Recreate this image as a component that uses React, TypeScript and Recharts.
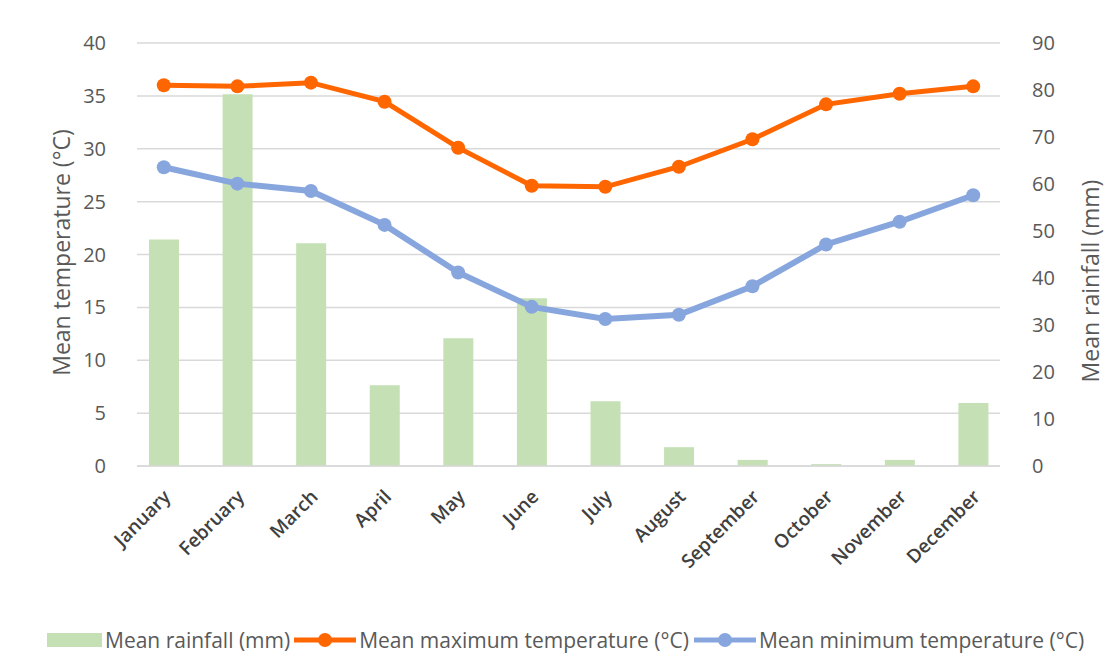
import {
  ComposedChart,
  Bar,
  Line,
  XAxis,
  YAxis,
  CartesianGrid,
  Legend,
} from "recharts";

const months = [
  "January",
  "February",
  "March",
  "April",
  "May",
  "June",
  "July",
  "August",
  "September",
  "October",
  "November",
  "December",
];
const rainfall = [48.2, 79.1, 47.4, 17.2, 27.2, 35.7, 13.8, 4.0, 1.3, 0.4, 1.3, 13.4];
const maxTemp = [36.0, 35.9, 36.25, 34.45, 30.1, 26.5, 26.4, 28.3, 30.9, 34.2, 35.2, 35.9];
const minTemp = [28.25, 26.7, 26.0, 22.8, 18.3, 15.05, 13.9, 14.3, 17.0, 20.95, 23.1, 25.6];
const tempTicks = [0, 5, 10, 15, 20, 25, 30, 35, 40];
const rainTicks = [0, 10, 20, 30, 40, 50, 60, 70, 80, 90];

const data = months.map((month, i) => ({
  month,
  rainfall: rainfall[i],
  maxTemp: maxTemp[i],
  minTemp: minTemp[i],
}));

const FONT = "'Open Sans', 'Noto Sans', sans-serif";
const GREEN = "#c5e0b4";
const ORANGE = "#ff6600";
const BLUE = "#88a6de";
const TEXT = "#595959";

const MonthTick = ({ x, y, payload }: any) => {
  const tx = x + 8;
  const ty = y + 24;
  return (
    <text
      x={tx}
      y={ty}
      textAnchor="end"
      transform={`rotate(-45, ${tx}, ${ty})`}
      fill="#404040"
      fontSize={19}
      fontWeight={600}
      fontFamily={FONT}
    >
      {payload.value}
    </text>
  );
};

const LegendBox = () => (
  <div
    style={{
      height: 30,
      display: "flex",
      alignItems: "center",
      paddingLeft: 47,
      fontFamily: FONT,
      fontSize: 21,
      color: TEXT,
      whiteSpace: "nowrap",
    }}
  >
    <span style={{ width: 55, height: 14, background: GREEN, marginRight: 3 }} />
    <span>Mean rainfall (mm)</span>
    <svg width={62} height={16} style={{ marginLeft: 4, marginRight: 3 }}>
      <line x1={0} y1={8} x2={62} y2={8} stroke={ORANGE} strokeWidth={5} />
      <circle cx={31} cy={8} r={7} fill={ORANGE} />
    </svg>
    <span>Mean maximum temperature (°C)</span>
    <svg width={62} height={16} style={{ marginLeft: 5, marginRight: 3 }}>
      <line x1={0} y1={8} x2={62} y2={8} stroke={BLUE} strokeWidth={5} />
      <circle cx={31} cy={8} r={7} fill={BLUE} />
    </svg>
    <span>Mean minimum temperature (°C)</span>
  </div>
);

export default function App() {
  return (
    <div style={{ position: "absolute", left: 0, top: 0, width: 1105, height: 655, background: "#fff" }}>
      <ComposedChart
        width={1105}
        height={655}
        data={data}
        margin={{ top: 43, right: 0, bottom: 0, left: 0 }}
      >
        <CartesianGrid vertical={false} yAxisId="left" stroke="#d9d9d9" strokeWidth={1.5} />
        <XAxis
          dataKey="month"
          height={159}
          padding={{ left: -10, right: -10 }}
          interval={0}
          tickLine={false}
          axisLine={{ stroke: "#d9d9d9", strokeWidth: 1.5 }}
          tick={<MonthTick />}
        />
        <YAxis
          yAxisId="left"
          width={137}
          domain={[0, 40]}
          ticks={tempTicks}
          axisLine={false}
          tickLine={false}
          tickSize={6}
          tickMargin={25}
          tick={{ fill: TEXT, fontSize: 20, fontFamily: FONT }}
          label={({ viewBox }: any) => {
            const cx = viewBox.x + 61;
            const cy = viewBox.y + viewBox.height / 2 - 2;
            return (
              <text
                x={cx}
                y={cy}
                textAnchor="middle"
                dominantBaseline="central"
                transform={`rotate(-90, ${cx}, ${cy})`}
                fill={TEXT}
                fontSize={23}
                fontFamily={FONT}
              >
                Mean temperature (°C)
              </text>
            );
          }}
        />
        <YAxis
          yAxisId="right"
          orientation="right"
          width={105}
          domain={[0, 90]}
          ticks={rainTicks}
          axisLine={false}
          tickLine={false}
          tickSize={6}
          tickMargin={26}
          tick={{ fill: TEXT, fontSize: 20, fontFamily: FONT }}
          label={({ viewBox }: any) => {
            const cx = viewBox.x + 90;
            const cy = viewBox.y + 238;
            return (
              <text
                x={cx}
                y={cy}
                textAnchor="middle"
                dominantBaseline="central"
                transform={`rotate(-90, ${cx}, ${cy})`}
                fill={TEXT}
                fontSize={23}
                fontFamily={FONT}
              >
                Mean rainfall (mm)
              </text>
            );
          }}
        />
        <Legend verticalAlign="bottom" content={<LegendBox />} />
        <Bar
          yAxisId="right"
          dataKey="rainfall"
          name="Mean rainfall (mm)"
          fill={GREEN}
          barSize={30}
          isAnimationActive={false}
        />
        <Line
          yAxisId="left"
          type="linear"
          dataKey="maxTemp"
          name="Mean maximum temperature (°C)"
          stroke={ORANGE}
          strokeWidth={5}
          dot={{ r: 7, fill: ORANGE, stroke: "none" }}
          isAnimationActive={false}
        />
        <Line
          yAxisId="left"
          type="linear"
          dataKey="minTemp"
          name="Mean minimum temperature (°C)"
          stroke={BLUE}
          strokeWidth={6}
          dot={{ r: 7, fill: BLUE, stroke: "none" }}
          isAnimationActive={false}
        />
      </ComposedChart>
    </div>
  );
}
